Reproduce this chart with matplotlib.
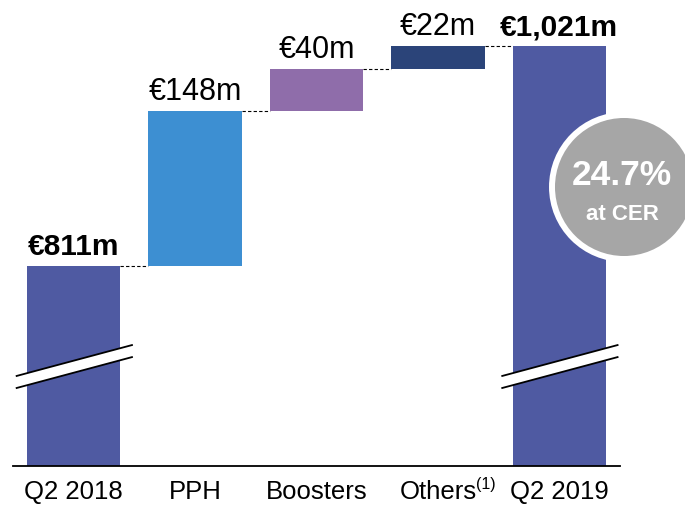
import matplotlib.pyplot as plt
from matplotlib.patches import Circle, Polygon

plt.rcParams['font.family'] = ['Liberation Sans', 'DejaVu Sans']

# data
categories = ["Q2 2018", "PPH", "Boosters", "Others", "Q2 2019"]
footnote = "(1)"
values = [811, 148, 40, 22, 1021]
is_total = [True, False, False, False, True]
value_labels = ["€811m", "€148m", "€40m", "€22m", "€1,021m"]
colors = ["#4F5AA2", "#3D8FD2", "#8F6DAA", "#2B4479", "#4F5AA2"]
growth_text = "24.7%"
growth_sub = "at CER"

y_min, y_max = 620, 1066
bar_w = 0.77

fig = plt.figure(figsize=(6.85, 5.06), dpi=100)
ax = fig.add_axes([13 / 685, 39 / 506, 607 / 685, 467 / 506])

# bottoms / tops of the waterfall
bottoms, tops = [], []
running = 0
for v, tot in zip(values, is_total):
    if tot:
        bottoms.append(0)
        tops.append(v)
        running = v
    else:
        bottoms.append(running)
        running += v
        tops.append(running)

x = list(range(len(values)))
heights = [t - b for t, b in zip(tops, bottoms)]
ax.bar(x, heights, bottom=bottoms, width=bar_w, color=colors, zorder=2)

# dashed connectors
for i in range(len(values) - 1):
    ax.plot([i + bar_w / 2, i + 1 - bar_w / 2], [tops[i], tops[i]],
            color="black", lw=0.8, ls=(0, (3, 2)), zorder=1)

# value labels
for i, lab in enumerate(value_labels):
    bold = is_total[i]
    ax.annotate(lab, (i, tops[i]), xytext=(0, 8.6), textcoords="offset points",
                ha="center", va="baseline", fontsize=21.5 if bold else 22,
                fontweight="bold" if bold else "normal", color="black")

# axis break marks on the total bars
for i in [0, 4]:
    x0, x1 = i - 0.47, i + 0.48
    lo0, lo1, hi0, hi1 = 694.5, 724, 706, 735.5
    ax.add_patch(Polygon([[x0, lo0], [x1, lo1], [x1, hi1], [x0, hi0]],
                         closed=True, facecolor="white", edgecolor="none",
                         zorder=3, clip_on=False))
    ax.plot([x0, x1], [lo0, lo1], color="black", lw=1.3, zorder=4, clip_on=False)
    ax.plot([x0, x1], [hi0, hi1], color="black", lw=1.3, zorder=4, clip_on=False)

ax.set_xlim(-0.5, 4.5)
ax.set_ylim(y_min, y_max)
ax.set_xticks(x)
ax.set_xticklabels(categories, fontsize=18.5)
ax.tick_params(axis="x", length=0, pad=9.5)
ax.set_yticks([])
for s in ["top", "right", "left"]:
    ax.spines[s].set_visible(False)
ax.spines["bottom"].set_linewidth(1.3)

# footnote marker next to "Others"
fig.text(476 / 685, (506 - 477) / 506, footnote, ha="left", va="top",
         fontsize=11.5, color="black")

# growth bubble
circ = Circle((6.24, 3.18), 0.72, transform=fig.dpi_scale_trans,
              facecolor="#A6A6A6", edgecolor="white", lw=4.3, zorder=5)
fig.add_artist(circ)
fig.text(6.22 / 6.85, 3.21 / 5.06, growth_text, ha="center", va="baseline",
         fontsize=25.5, fontweight="bold", color="white", zorder=6)
fig.text(6.22 / 6.85, 2.86 / 5.06, growth_sub, ha="center", va="baseline",
         fontsize=16, fontweight="bold", color="white", zorder=6)

fig.savefig("out.png", dpi=100)
